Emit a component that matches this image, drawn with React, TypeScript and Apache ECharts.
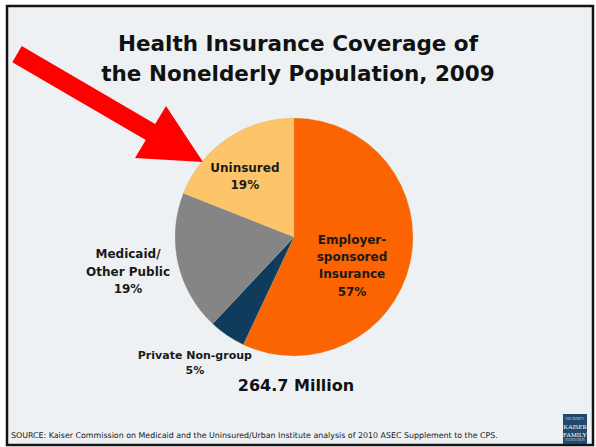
import React, { useEffect, useRef } from "react";
import * as echarts from "echarts";

const categories = [
  "Employer-\nsponsored\nInsurance",
  "Private Non-group",
  "Medicaid/\nOther Public",
  "Uninsured",
];
const shares = [57, 5, 19, 19];
const sliceColors = ["#FB6400", "#0F3B5C", "#858585", "#FDC46A"];
const labelOffsets = [
  [-3, 15],
  [-64, 74],
  [-105, 21],
  [-14, -9],
];
const labelSizes = [12, 11, 12, 12];
const titleText = "Health Insurance Coverage of\nthe Nonelderly Population, 2009";
const totalText = "264.7 Million";
const sourceText =
  "SOURCE: Kaiser Commission on Medicaid and the Uninsured/Urban Institute analysis of 2010 ASEC Supplement to the CPS.";

const FONT = "DejaVu Sans";

export default function App() {
  const ref = useRef<HTMLDivElement>(null);
  useEffect(() => {
    if (!ref.current) return;
    const chart = echarts.init(ref.current, undefined, { renderer: "svg" });
    const arrow = [
      [21.7, 46],
      [155.2, 123.9],
      [166, 106],
      [203, 162],
      [135, 158],
      [145.8, 140.1],
      [12.3, 62.3],
    ];
    chart.setOption({
      animation: false,
      backgroundColor: "#ffffff",
      title: {
        text: titleText,
        left: "center",
        top: 28,
        padding: 0,
        textStyle: {
          fontFamily: FONT,
          fontWeight: "bold",
          fontSize: 21.5,
          lineHeight: 30,
          color: "#111111",
        },
      },
      graphic: [
        {
          type: "rect",
          z: -10,
          shape: { x: 7, y: 6, width: 586, height: 439 },
          style: { fill: "#EEF1F4", stroke: "#141414", lineWidth: 2.5 },
        },
        {
          type: "polygon",
          z: 20,
          shape: { points: arrow },
          style: { fill: "#FF0000" },
        },
        {
          type: "text",
          z: 20,
          x: 296,
          y: 385,
          style: {
            text: totalText,
            fontFamily: FONT,
            fontWeight: "bold",
            fontSize: 16,
            fill: "#111111",
            align: "center",
            verticalAlign: "middle",
          },
        },
        {
          type: "text",
          z: 20,
          x: 11,
          y: 435,
          style: {
            text: sourceText,
            fontFamily: FONT,
            fontSize: 7.9,
            fill: "#151515",
            align: "left",
            verticalAlign: "middle",
          },
        },
        {
          type: "group",
          z: 20,
          children: [
            {
              type: "rect",
              shape: { x: 563, y: 414, width: 24, height: 30 },
              style: { fill: "#1F4A70" },
            },
            {
              type: "text",
              x: 575,
              y: 419,
              style: { text: "THE HENRY J.", fontSize: 3, fill: "#c8d4e0", align: "center", verticalAlign: "middle", fontFamily: "Liberation Serif" },
            },
            {
              type: "text",
              x: 575,
              y: 426.5,
              style: { text: "KAISER", fontSize: 6.5, fill: "#ffffff", align: "center", verticalAlign: "middle", fontFamily: "Liberation Serif" },
            },
            {
              type: "text",
              x: 575,
              y: 434,
              style: { text: "FAMILY", fontSize: 6.5, fill: "#ffffff", align: "center", verticalAlign: "middle", fontFamily: "Liberation Serif" },
            },
            {
              type: "text",
              x: 575,
              y: 440,
              style: { text: "FOUNDATION", fontSize: 3, fill: "#c8d4e0", align: "center", verticalAlign: "middle", fontFamily: "Liberation Serif" },
            },
          ],
        },
      ],
      series: [
        {
          type: "pie",
          center: [294, 237],
          radius: 119,
          startAngle: 90,
          clockwise: true,
          z: 2,
          labelLine: { show: false },
          itemStyle: { borderColor: "rgba(200,170,120,0.5)", borderWidth: 0.5 },
          data: categories.map((name, i) => ({
            name,
            value: shares[i],
            itemStyle: { color: sliceColors[i] },
            label: {
              show: true,
              position: "inside",
              offset: labelOffsets[i],
              fontSize: labelSizes[i],
              lineHeight: i === 1 ? 15 : 17.3,
            },
          })),
          label: {
            show: true,
            position: "inside",
            fontFamily: FONT,
            fontWeight: "bold",
            color: "#1a1a1a",
            align: "center",
            formatter: (p: any) => `${p.name}\n${p.value}%`,
          },
          emphasis: { disabled: true },
        },
      ],
    });
    return () => chart.dispose();
  }, []);
  return (
    <div
      ref={ref}
      style={{ position: "absolute", left: 0, top: 0, width: 596, height: 447 }}
    />
  );
}
